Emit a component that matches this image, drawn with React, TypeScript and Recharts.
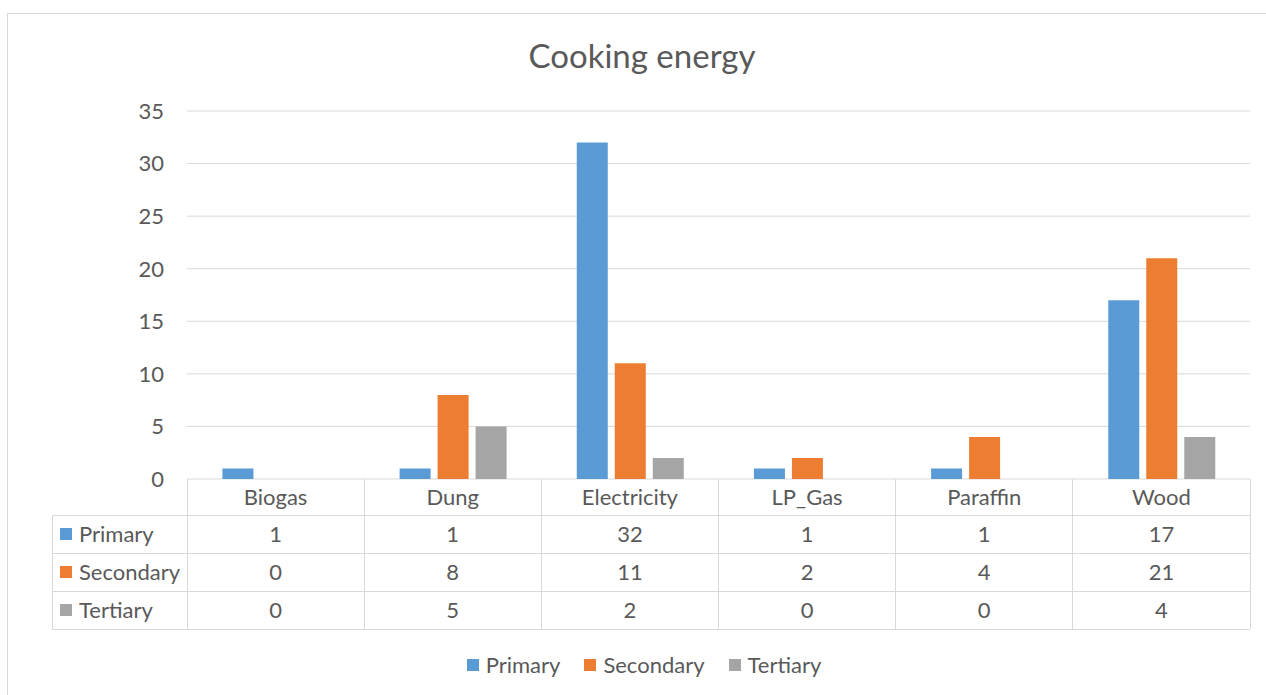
import { BarChart, Bar, XAxis, YAxis, CartesianGrid, Legend } from "recharts";

const categories = ["Biogas", "Dung", "Electricity", "LP_Gas", "Paraffin", "Wood"];
const primary = [1, 1, 32, 1, 1, 17];
const secondary = [0, 8, 11, 2, 4, 21];
const tertiary = [0, 5, 2, 0, 0, 4];
const yTicks = [0, 5, 10, 15, 20, 25, 30, 35];

const SERIES = [
  { key: "Primary", values: primary, color: "#5b9bd5" },
  { key: "Secondary", values: secondary, color: "#ed7d31" },
  { key: "Tertiary", values: tertiary, color: "#a5a5a5" },
];

const data = categories.map((name, i) => {
  const row: Record<string, string | number> = { name };
  SERIES.forEach((s) => (row[s.key] = s.values[i]));
  return row;
});

const W = 1266;
const H = 695;
const MARGIN = { top: 111, right: 16, left: 127, bottom: 39 };
const Y_AXIS_W = 60;
const PLOT_W = W - MARGIN.left - MARGIN.right - Y_AXIS_W;
const BAND = PLOT_W / categories.length;

const FONT = "Lato, 'Open Sans', sans-serif";
const TEXT = "#595959";
const LINE = "#d9d9d9";
const FS = 22;

// table rows under the axis: category row, then one row per series
const ROW_EDGES = [0, 36, 74, 112, 150];
const HEADER_W = 135;

function TableTick({ x, y, payload, index }: any) {
  const left = x - BAND / 2;
  const right = x + BAND / 2;
  const i = categories.indexOf(payload.value);
  const mid = (r: number) => y + (ROW_EDGES[r] + ROW_EDGES[r + 1]) / 2;
  return (
    <g shapeRendering="crispEdges">
      {ROW_EDGES.slice(1).map((e) => (
        <line key={e} x1={left} x2={right} y1={y + e} y2={y + e} stroke={LINE} />
      ))}
      <line x1={left} x2={left} y1={y} y2={y + 150} stroke={LINE} />
      <line x1={right} x2={right} y1={y} y2={y + 150} stroke={LINE} />
      <text x={x} y={mid(0)} dy="0.35em" textAnchor="middle" fill={TEXT} fontSize={FS} fontFamily={FONT}>
        {payload.value}
      </text>
      {SERIES.map((s, r) => (
        <text key={s.key} x={x} y={mid(r + 1)} dy="0.35em" textAnchor="middle" fill={TEXT} fontSize={FS} fontFamily={FONT}>
          {s.values[i]}
        </text>
      ))}
      {index === 0 && (
        <g>
          {ROW_EDGES.slice(1).map((e) => (
            <line key={e} x1={left - HEADER_W} x2={left} y1={y + e} y2={y + e} stroke={LINE} />
          ))}
          <line x1={left - HEADER_W} x2={left - HEADER_W} y1={y + ROW_EDGES[1]} y2={y + 150} stroke={LINE} />
          {SERIES.map((s, r) => (
            <g key={s.key}>
              <rect x={left - HEADER_W + 8} y={mid(r + 1) - 6} width={12} height={12} fill={s.color} />
              <text x={left - HEADER_W + 27} y={mid(r + 1)} dy="0.35em" fill={TEXT} fontSize={FS} fontFamily={FONT}>
                {s.key}
              </text>
            </g>
          ))}
        </g>
      )}
    </g>
  );
}

function LegendRow() {
  return (
    <div style={{ display: "flex", justifyContent: "center", gap: 24, fontFamily: FONT, fontSize: FS, color: TEXT }}>
      {SERIES.map((s) => (
        <div key={s.key} style={{ display: "flex", alignItems: "center", gap: 7 }}>
          <span style={{ width: 12, height: 12, background: s.color, display: "inline-block" }} />
          <span>{s.key}</span>
        </div>
      ))}
    </div>
  );
}

export default function App() {
  return (
    <div style={{ position: "absolute", left: 0, top: 0, width: W, height: H, overflow: "hidden", background: "#fff" }}>
      <div style={{ position: "absolute", left: 7, top: 13, width: 1400, height: 800, border: `1px solid ${LINE}` }} />
      <div
        style={{
          position: "absolute",
          left: 0,
          width: 1284,
          top: 35,
          textAlign: "center",
          fontFamily: FONT,
          fontSize: 33,
          color: TEXT,
        }}
      >
        Cooking energy
      </div>
      <BarChart
        width={W}
        height={H}
        data={data}
        margin={MARGIN}
        barCategoryGap="20%"
        barGap={7}
        style={{ position: "absolute", left: 0, top: 0 }}
      >
        <CartesianGrid vertical={false} stroke={LINE} />
        <XAxis
          dataKey="name"
          height={150}
          axisLine={false}
          tickLine={false}
          tickSize={0}
          tickMargin={0}
          interval={0}
          tick={<TableTick />}
        />
        <YAxis
          width={Y_AXIS_W}
          domain={[0, 35]}
          ticks={yTicks}
          axisLine={false}
          tickLine={false}
          tickSize={0}
          tickMargin={23}
          tick={{ fill: TEXT, fontSize: FS, fontFamily: FONT }}
        />
        <Legend
          verticalAlign="bottom"
          content={<LegendRow />}
          wrapperStyle={{ bottom: 17, left: 0, width: 1288 }}
        />
        {SERIES.map((s) => (
          <Bar key={s.key} dataKey={s.key} fill={s.color} isAnimationActive={false} />
        ))}
      </BarChart>
    </div>
  );
}
